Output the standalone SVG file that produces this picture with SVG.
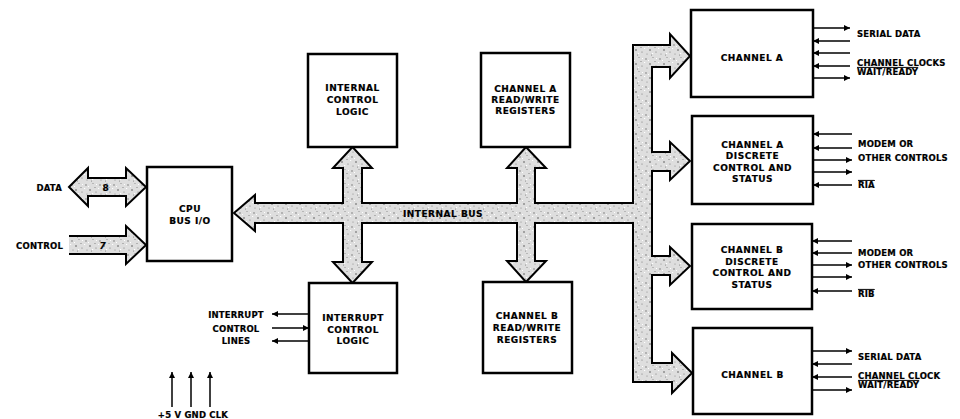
<svg xmlns="http://www.w3.org/2000/svg" width="960" height="419" viewBox="0 0 960 419">
<style>
.box{fill:#fff;stroke:#000;stroke-width:2.5}
.t{font-family:"DejaVu Sans",sans-serif;font-weight:bold;font-size:9px;letter-spacing:0.5px;text-anchor:middle;fill:#000;stroke:#000;stroke-width:0.2}
.l{font-family:"DejaVu Sans",sans-serif;font-weight:bold;font-size:8.5px;letter-spacing:0.2px;fill:#000;stroke:#000;stroke-width:0.2}
.bus{fill:url(#stip);stroke:#000;stroke-width:2;stroke-linejoin:miter}
.sig{stroke:#000;stroke-width:1.5;fill:none;marker-end:url(#ah)}
.ov{text-decoration:overline}
</style>
<defs>
<pattern id="stip" width="14" height="14" patternUnits="userSpaceOnUse">
<rect width="14" height="14" fill="#dedede"/>
<circle cx="2" cy="3" r="0.7" fill="#666"/>
<circle cx="9" cy="1.5" r="0.6" fill="#888"/>
<circle cx="6" cy="8" r="0.8" fill="#555"/>
<circle cx="12" cy="10" r="0.6" fill="#777"/>
<circle cx="3" cy="12" r="0.6" fill="#888"/>
<circle cx="11" cy="5.5" r="0.5" fill="#666"/>
<circle cx="7.5" cy="13" r="0.5" fill="#777"/>
<rect x="0" y="6" width="1.2" height="1" fill="#fff"/>
<rect x="8" y="11" width="1.2" height="1" fill="#fff"/>
<rect x="4" y="4" width="1" height="1" fill="#fff"/>
<rect x="12" y="2" width="1" height="1" fill="#fff"/>
</pattern>
<marker id="ah" viewBox="0 0 10 10" refX="10" refY="5" markerWidth="8" markerHeight="6" orient="auto" markerUnits="userSpaceOnUse"><path d="M0,0 L10,5 L0,10 z" fill="#000"/></marker>
</defs>
<rect width="960" height="419" fill="#fff"/>

<g id="connectors">
<path class="bus" d="M234,213 L255,195 L255,203 L343,203 L343,168 L333,168 L352.5,147 L372,168 L362,168 L362,203 L517,203 L517,168 L507,168 L526,147 L546,168 L535,168 L535,203 L633,203 L633,45 L670,45 L670,34 L690,56 L670,78 L670,67 L652,67 L652,152 L670,152 L670,142 L690,161 L670,180 L670,171 L652,171 L652,256 L670,256 L670,247 L690,266 L670,285 L670,275 L652,275 L652,363 L672,363 L672,353 L692,373 L672,393 L672,382 L633,382 L633,223 L535,223 L535,261 L546,261 L526,282 L507,261 L517,261 L517,223 L362,223 L362,262 L372,262 L352.5,283 L333,262 L343,262 L343,223 L255,223 L255,231 Z"/>
<text class="t" x="443" y="216.5">INTERNAL BUS</text>
<path class="bus" d="M69,187 L88,168 L88,178 L126,178 L126,168 L146,187 L126,206 L126,196 L88,196 L88,206 Z"/>
<text class="t" x="106" y="190.5">8</text>
<path d="M69,236 L126,236 L126,226 L146,245 L126,264 L126,254 L69,254 Z" fill="url(#stip)"/>
<path d="M69,236 L126,236 L126,226 L146,245 L126,264 L126,254 L69,254" fill="none" stroke="#000" stroke-width="2"/>
<text class="t" x="103" y="248.5" font-style="italic">7</text>

<!-- Channel A signals -->
<line class="sig" x1="813" y1="28" x2="850" y2="28"/>
<line class="sig" x1="850" y1="41" x2="813" y2="41"/>
<line class="sig" x1="850" y1="53" x2="813" y2="53"/>
<line class="sig" x1="850" y1="66" x2="813" y2="66"/>
<line class="sig" x1="813" y1="78" x2="850" y2="78"/>
<!-- Channel A discrete signals -->
<line class="sig" x1="852" y1="134" x2="813" y2="134"/>
<line class="sig" x1="852" y1="148" x2="813" y2="148"/>
<line class="sig" x1="813" y1="160" x2="852" y2="160"/>
<line class="sig" x1="813" y1="172" x2="852" y2="172"/>
<line class="sig" x1="852" y1="185" x2="813" y2="185"/>
<!-- Channel B discrete signals -->
<line class="sig" x1="852" y1="241" x2="812" y2="241"/>
<line class="sig" x1="852" y1="253" x2="812" y2="253"/>
<line class="sig" x1="812" y1="265" x2="852" y2="265"/>
<line class="sig" x1="812" y1="277" x2="852" y2="277"/>
<line class="sig" x1="852" y1="291" x2="812" y2="291"/>
<!-- Channel B signals -->
<line class="sig" x1="812" y1="351" x2="852" y2="351"/>
<line class="sig" x1="852" y1="364" x2="812" y2="364"/>
<line class="sig" x1="852" y1="377" x2="812" y2="377"/>
<line class="sig" x1="812" y1="390" x2="852" y2="390"/>
<!-- Interrupt control lines -->
<line class="sig" x1="309" y1="314" x2="272" y2="314"/>
<line class="sig" x1="272" y1="328" x2="309" y2="328"/>
<line class="sig" x1="309" y1="341" x2="272" y2="341"/>
<!-- Power -->
<line class="sig" x1="172" y1="407" x2="172" y2="372"/>
<line class="sig" x1="191" y1="407" x2="191" y2="372"/>
<line class="sig" x1="210" y1="407" x2="210" y2="372"/>
</g>

<g id="cpu"><rect class="box" x="147" y="167" width="85" height="94"/>
<text class="t" x="190" y="212">CPU</text><text class="t" x="190" y="224">BUS I/O</text></g>

<g id="internal-control-logic"><rect class="box" x="308" y="54" width="89" height="93"/>
<text class="t" x="352.5" y="90.5">INTERNAL</text><text class="t" x="352.5" y="102.5">CONTROL</text><text class="t" x="352.5" y="114.5">LOGIC</text></g>

<g id="interrupt-control-logic"><rect class="box" x="309" y="283" width="88" height="90"/>
<text class="t" x="353" y="321">INTERRUPT</text><text class="t" x="353" y="333">CONTROL</text><text class="t" x="353" y="344">LOGIC</text></g>

<g id="channel-a-rw"><rect class="box" x="481" y="53" width="89" height="94"/>
<text class="t" x="525.5" y="91.5">CHANNEL A</text><text class="t" x="525.5" y="102.5">READ/WRITE</text><text class="t" x="525.5" y="113.5">REGISTERS</text></g>

<g id="channel-b-rw"><rect class="box" x="483" y="282" width="89" height="91"/>
<text class="t" x="527" y="318.5">CHANNEL B</text><text class="t" x="527" y="330.5">READ/WRITE</text><text class="t" x="527" y="342.5">REGISTERS</text></g>

<g id="channel-a"><rect class="box" x="691" y="10" width="122" height="87"/>
<text class="t" x="752" y="60.5">CHANNEL A</text></g>

<g id="channel-a-discrete"><rect class="box" x="692" y="116" width="121" height="88"/>
<text class="t" x="752.5" y="147.5">CHANNEL A</text><text class="t" x="752.5" y="159">DISCRETE</text><text class="t" x="752.5" y="170.5">CONTROL AND</text><text class="t" x="752.5" y="182">STATUS</text></g>

<g id="channel-b-discrete"><rect class="box" x="692" y="224" width="120" height="85"/>
<text class="t" x="752" y="253">CHANNEL B</text><text class="t" x="752" y="264.5">DISCRETE</text><text class="t" x="752" y="276">CONTROL AND</text><text class="t" x="752" y="287.5">STATUS</text></g>

<g id="channel-b"><rect class="box" x="693" y="328" width="119" height="86"/>
<text class="t" x="752.5" y="377.5">CHANNEL B</text></g>

<g id="labels">
<text class="l" x="62" y="190.5" text-anchor="end" font-size="9">DATA</text>
<text class="l" x="63" y="248.5" text-anchor="end" font-size="9">CONTROL</text>
<text class="l" x="857" y="37">SERIAL DATA</text>
<text class="l" x="857" y="66">CHANNEL CLOCKS</text>
<text class="l ov" x="857" y="75">WAIT/READY</text>
<text class="l" x="858" y="147">MODEM OR</text>
<text class="l" x="858" y="161">OTHER CONTROLS</text>
<text class="l ov" x="858" y="188">RIA</text>
<text class="l" x="858" y="256">MODEM OR</text>
<text class="l" x="858" y="268">OTHER CONTROLS</text>
<text class="l ov" x="858" y="297">RIB</text>
<text class="l" x="858" y="360">SERIAL DATA</text>
<text class="l" x="858" y="379">CHANNEL CLOCK</text>
<text class="l ov" x="858" y="388">WAIT/READY</text>
<text class="l" x="236" y="318" text-anchor="middle">INTERRUPT</text>
<text class="l" x="236" y="332" text-anchor="middle">CONTROL</text>
<text class="l" x="236" y="344" text-anchor="middle">LINES</text>
<text class="l" x="193" y="418" text-anchor="middle">+5 V GND CLK</text>
</g>
</svg>
